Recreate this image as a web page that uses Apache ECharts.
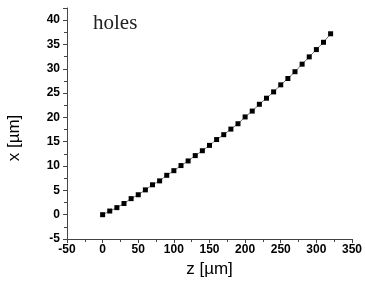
<!DOCTYPE html>
<html>
<head>
<meta charset="utf-8">
<script src="https://cdn.jsdelivr.net/npm/echarts@6/dist/echarts.min.js"></script>
<style>html,body{margin:0;padding:0;background:#fff;}#c{width:365px;height:293px;}</style>
</head>
<body>
<div id="c"></div>
<script>
var zValues = [0,10,20,30,40,50,60,70,80,90,100,110,120,130,140,150,160,170,180,190,200,210,220,230,240,250,260,270,280,290,300,310,320];
var xValues = [0,0.75,1.45,2.3,3.3,4.1,5.1,6.15,6.95,8.1,9.05,10.1,11.05,12.15,13.15,14.25,15.45,16.45,17.6,18.7,20.1,21.3,22.7,23.95,25.25,26.7,28.0,29.4,30.95,32.45,33.95,35.45,37.2];
var xTicks = {min:-50, max:350, step:50};
var yTicks = {min:-5, max:42.5, step:5};
var annotation = 'holes';
var xName = 'z [\u00b5m]';
var yName = 'x [\u00b5m]';

var pts = zValues.map(function(z,i){return [z, xValues[i]];});
var chart = echarts.init(document.getElementById('c'));
var labelStyle = {color:'#000', fontFamily:'Liberation Sans, Arial, sans-serif', fontSize:12, fontWeight:'bold'};
chart.setOption({
  animation:false,
  grid:{left:67, right:13, top:8, bottom:54, containLabel:false},
  xAxis:{
    type:'value', min:xTicks.min, max:xTicks.max, interval:xTicks.step,
    name:xName, nameLocation:'middle', nameGap:19,
    nameTextStyle:{color:'#000', fontFamily:'Liberation Sans, Arial, sans-serif', fontSize:17},
    axisLine:{show:true, onZero:false, lineStyle:{color:'#444', width:1}},
    axisTick:{show:true, inside:false, length:4, lineStyle:{color:'#444'}},
    minorTick:{show:true, splitNumber:2, length:3, lineStyle:{color:'#444'}},
    splitLine:{show:false},
    axisLabel:Object.assign({margin:5}, labelStyle)
  },
  yAxis:{
    type:'value', min:yTicks.min, max:yTicks.max, interval:yTicks.step,
    axisLine:{show:true, onZero:false, lineStyle:{color:'#444', width:1}},
    axisTick:{show:true, inside:false, length:4, lineStyle:{color:'#444'}},
    minorTick:{show:true, splitNumber:2, length:3, lineStyle:{color:'#444'}},
    splitLine:{show:false},
    axisLabel:Object.assign({margin:7, showMaxLabel:false, formatter:function(v){return (v % 5 === 0) ? String(v) : '';}}, labelStyle)
  },
  graphic:[
    {type:'text', left:93, top:13, style:{text:annotation, fill:'#222', font:'21px "Liberation Serif", "DejaVu Serif", serif'}},
    {type:'text', x:14, y:138, rotation:Math.PI/2, style:{text:yName, fill:'#000', font:'17px "Liberation Sans", Arial, sans-serif', align:'center', verticalAlign:'middle'}}
  ],
  series:[{
    type:'line', data:pts, symbol:'rect', symbolSize:5,
    itemStyle:{color:'#000'},
    lineStyle:{color:'#777', width:1}
  }]
});
</script>
</body>
</html>
